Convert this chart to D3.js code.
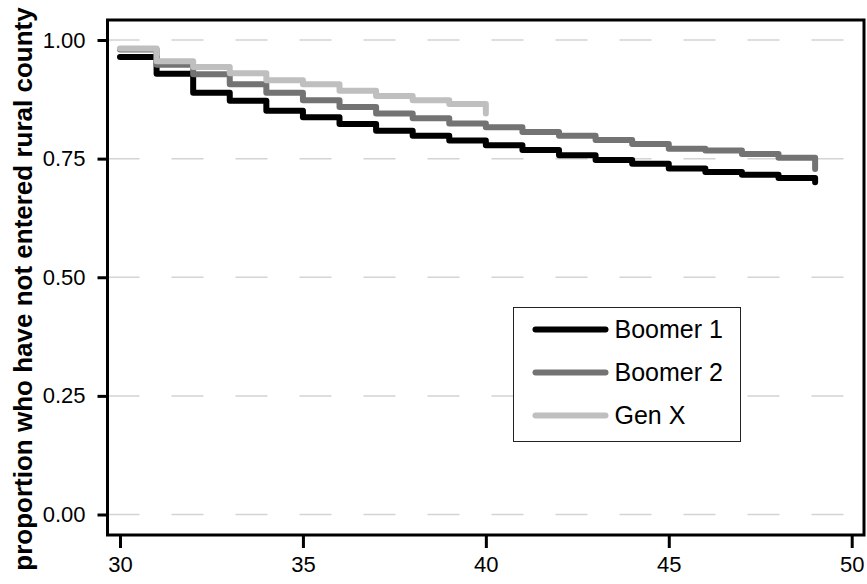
<!DOCTYPE html>
<html>
<head>
<meta charset="utf-8">
<script src="https://cdn.jsdelivr.net/npm/d3@7"></script>
<style>
	body { margin: 0; background: #fff; }
	svg { display: block; font-family: 'Liberation Sans', Arial, sans-serif; }
</style>
</head>
<body>
<div class="visContainer"></div>
<script>
const w = 867;
const h = 584;

// ages where each survival step starts (last entry = end of follow-up)
const ages = [30, 31, 32, 33, 34, 35, 36, 37, 38, 39, 40, 41, 42, 43, 44, 45, 46, 47, 48, 49];
const boomer1 = [0.964, 0.929, 0.889, 0.872, 0.851, 0.837, 0.823, 0.809, 0.798, 0.788, 0.778, 0.768, 0.757, 0.747, 0.739, 0.729, 0.722, 0.716, 0.709, 0.700];
const boomer2 = [0.980, 0.948, 0.928, 0.907, 0.889, 0.873, 0.859, 0.845, 0.835, 0.824, 0.816, 0.806, 0.798, 0.789, 0.781, 0.771, 0.767, 0.760, 0.752, 0.728];
const genX = [0.982, 0.955, 0.943, 0.930, 0.915, 0.907, 0.893, 0.882, 0.873, 0.865, 0.845];

const seriesNames = ['Boomer 1', 'Boomer 2', 'Gen X'];
const seriesColors = ['#000000', '#737373', '#bfbfbf'];
const xTicks = [30, 35, 40, 45, 50];
const yTicks = [0, 0.25, 0.5, 0.75, 1];
const yTitle = 'proportion who have not entered rural county';

const svg = d3
	.select('.visContainer')
	.append('svg')
	.attr('width', w)
	.attr('height', h);

// plot frame
const frame = { left: 107.5, right: 864, top: 20, bottom: 535 };

const xScale = d3.scaleLinear().domain([30, 50]).range([120, 851.7]);
const yScale = d3.scaleLinear().domain([0, 1]).range([514.5, 40]);

// dashed gridlines
svg
	.append('g')
	.selectAll('line')
	.data(yTicks)
	.enter()
	.append('line')
	.attr('x1', frame.left)
	.attr('x2', frame.right)
	.attr('y1', (d) => yScale(d))
	.attr('y2', (d) => yScale(d))
	.attr('stroke', '#d4d4d4')
	.attr('stroke-width', 1.5)
	.attr('stroke-dasharray', '32,32');

const series = [boomer1, boomer2, genX];

const line = d3
	.line()
	.x((d) => xScale(d[0]))
	.y((d) => yScale(d[1]))
	.curve(d3.curveStepAfter);

series.forEach((vals, i) => {
	const pts = vals.map((v, j) => [ages[j], v]);
	svg
		.append('path')
		.datum(pts)
		.attr('d', line)
		.attr('fill', 'none')
		.attr('stroke', seriesColors[i])
		.attr('stroke-width', 6)
		.attr('stroke-linecap', 'round')
		.attr('stroke-linejoin', 'round');
});

// axes
const yAxis = d3
	.axisLeft(yScale)
	.tickValues(yTicks)
	.tickFormat(d3.format('.2f'))
	.tickSize(10)
	.tickPadding(12);

const yAxisGroup = svg
	.append('g')
	.attr('transform', 'translate(' + frame.left + ', 0)')
	.call(yAxis);

const xAxis = d3
	.axisBottom(xScale)
	.tickValues(xTicks)
	.tickSize(13)
	.tickPadding(8);

const xAxisGroup = svg
	.append('g')
	.attr('transform', 'translate(0, ' + frame.bottom + ')')
	.call(xAxis);

[yAxisGroup, xAxisGroup].forEach((g) => {
	g.select('.domain').remove();
	g.selectAll('.tick line').attr('stroke', '#000').attr('stroke-width', 3);
	g.selectAll('.tick text')
		.attr('fill', '#000')
		.style('font-size', '22px')
		.style('font-family', "'Liberation Sans', Arial, sans-serif");
});

svg
	.append('rect')
	.attr('x', frame.left)
	.attr('y', frame.top)
	.attr('width', frame.right - frame.left)
	.attr('height', frame.bottom - frame.top)
	.attr('fill', 'none')
	.attr('stroke', '#000')
	.attr('stroke-width', 3);

svg
	.append('text')
	.attr('transform', 'translate(32, 289) rotate(-90)')
	.attr('text-anchor', 'middle')
	.style('font-size', '26px')
	.style('font-weight', 'bold')
	.text(yTitle);

// legend
const legend = svg.append('g').attr('transform', 'translate(513.5, 307.5)');

legend
	.append('rect')
	.attr('width', 227)
	.attr('height', 134)
	.attr('fill', '#fff')
	.attr('stroke', '#222')
	.attr('stroke-width', 1);

seriesNames.forEach((name, i) => {
	const y = 22 + i * 43;
	legend
		.append('line')
		.attr('x1', 22)
		.attr('x2', 92)
		.attr('y1', y)
		.attr('y2', y)
		.attr('stroke', seriesColors[i])
		.attr('stroke-width', 6)
		.attr('stroke-linecap', 'round');
	legend
		.append('text')
		.attr('x', 101)
		.attr('y', y)
		.attr('dy', '0.35em')
		.style('font-size', '25px')
		.text(name);
});
</script>
</body>
</html>
